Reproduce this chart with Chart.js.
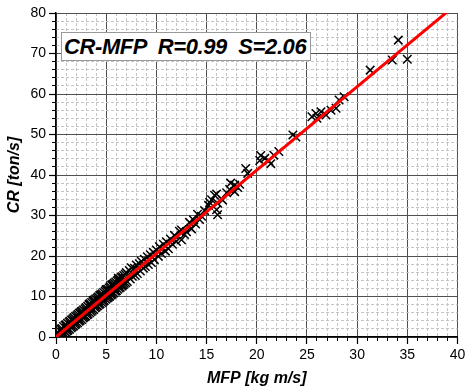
<!DOCTYPE html>
<html>
<head>
<meta charset="utf-8">
<script src="https://cdn.jsdelivr.net/npm/chart.js@4.4.0/dist/chart.umd.min.js"></script>
<style>
  html, body { margin: 0; padding: 0; background: #fff; }
  #wrap { position: relative; width: 465px; height: 390px; }
  #fitLabel {
    position: absolute; left: 61px; top: 32px; width: 250px; height: 29px;
    box-sizing: border-box; border: 1px solid #999; background: #fff; color: #000;
    font: italic bold 22px "Liberation Sans", Arial, sans-serif;
    line-height: 27px; padding-left: 2px; white-space: pre; letter-spacing: -0.4px;
  }
</style>
</head>
<body>
<div id="wrap">
  <canvas id="chart" width="465" height="390"></canvas>
  <div id="fitLabel"></div>
</div>
<script>
/* datos */
const mfp = [
  0.1, 0.15, 0.2, 0.3, 0.35, 0.4, 0.5, 0.55, 0.6, 0.7,
  0.75, 0.8, 0.9, 0.95, 1.0, 1.1, 1.15, 1.2, 1.3, 1.35,
  1.4, 1.5, 1.55, 1.6, 1.7, 1.75, 1.8, 1.9, 1.95, 2.0,
  2.1, 2.15, 2.2, 2.3, 2.35, 2.4, 2.5, 2.55, 2.6, 2.7,
  2.75, 2.8, 2.9, 2.95, 3.0, 3.1, 3.15, 3.2, 3.3, 3.35,
  3.4, 3.5, 3.55, 3.6, 3.7, 3.75, 3.8, 3.9, 3.95, 4.0,
  4.1, 4.15, 4.2, 4.3, 4.35, 4.4, 4.5, 4.55, 4.6, 4.7,
  4.75, 4.8, 4.9, 4.95, 5.0, 5.1, 5.15, 5.2, 5.3, 5.35,
  5.4, 5.5, 5.55, 5.6, 5.7, 5.75, 5.8, 5.9, 5.95, 6.0,
  6.1, 6.15, 6.2, 6.3, 6.35, 6.4, 6.5, 6.55, 6.6, 6.7,
  6.75, 6.8, 6.9, 6.95,
  0.25, 0.65, 1.05, 1.45, 1.85, 2.25, 2.65, 3.05, 3.45, 3.85,
  4.25, 4.65, 5.05, 5.45, 5.85, 6.25, 6.65,
  1.6, 2.4, 3.3, 3.7, 4.4, 5.0, 5.6, 6.2, 2.9, 4.1,
  5.3, 6.0, 6.6,
  7.0, 7.1, 7.3, 7.4, 7.5, 7.6, 7.8, 7.9, 8.0, 8.1,
  8.3, 8.4, 8.5, 8.7, 8.8, 8.9, 9.1, 9.2, 9.4, 9.5,
  9.7, 9.8, 10.0, 10.2, 10.3, 10.5, 10.7, 10.9, 11.0, 11.2,
  11.4, 11.6, 11.8, 12.0, 12.3, 12.5, 12.5, 12.8, 13.0, 13.3,
  13.5, 13.7, 13.9, 14.1, 14.3, 14.5, 14.8,
  15.2, 15.3, 15.5, 15.8, 16.0, 16.1, 16.0, 16.1, 16.6, 17.0,
  17.3, 17.4, 17.8, 17.8, 18.1, 18.3, 18.9, 19.1, 20.3, 20.4,
  20.8, 21.2, 21.4, 21.7, 22.2, 23.6, 23.9,
  25.5, 25.9, 26.0, 26.4, 26.9, 27.4, 27.9, 28.2, 28.7, 31.3,
  33.5, 34.1, 35.0
];
const cr = [
  0.9, 0.0, 1.1, 0.0, 1.6, 0.3, 1.9, 0.4, 2.1, 0.7,
  2.6, 0.9, 2.9, 1.2, 3.0, 1.5, 3.4, 1.7, 3.7, 1.9,
  3.9, 2.3, 4.2, 2.5, 4.5, 2.7, 4.8, 3.0, 5.1, 3.3,
  5.3, 3.5, 5.6, 3.9, 5.9, 4.1, 6.2, 4.3, 6.4, 4.7,
  6.7, 4.9, 7.0, 5.2, 7.3, 5.5, 7.6, 5.7, 7.9, 6.0,
  8.2, 6.3, 8.5, 6.6, 8.8, 6.8, 9.1, 7.2, 9.4, 7.4,
  9.6, 7.7, 9.9, 8.0, 10.2, 8.2, 10.4, 8.5, 10.7, 8.8,
  11.0, 9.0, 11.3, 9.3, 11.6, 9.6, 11.8, 9.8, 12.1, 10.1,
  12.4, 10.4, 12.7, 10.6, 13.0, 10.9, 13.3, 11.3, 13.6, 11.5,
  13.9, 11.8, 14.1, 12.1, 14.4, 12.3, 14.7, 12.6, 14.9, 12.9,
  15.2, 13.2, 15.5, 13.4,
  0.5, 1.3, 2.2, 3.0, 3.8, 4.6, 5.5, 6.3, 7.1, 7.9,
  8.8, 9.6, 10.4, 11.2, 12.1, 12.9, 13.7,
  4.2, 5.9, 8.1, 9.0, 10.3, 11.7, 12.9, 14.5, 5.1, 7.7,
  10.0, 11.4, 12.8,
  15.9, 13.7, 16.4, 14.3, 17.1, 15.0, 17.0, 15.2, 17.8, 15.7,
  18.1, 16.3, 18.7, 17.0, 19.2, 17.4, 19.8, 17.9, 20.3, 18.4,
  20.9, 19.1, 21.5, 19.9, 22.3, 20.6, 22.9, 21.2, 23.5, 21.8,
  24.2, 22.9, 25.1, 23.6, 26.1, 24.0, 26.4, 25.3, 26.0, 28.3,
  26.7, 28.9, 27.9, 30.3, 29.0, 29.8, 31.2,
  32.5, 33.2, 33.9, 35.0, 35.3, 33.0, 31.4, 30.2, 33.8, 35.6,
  36.4, 38.0, 37.5, 35.9, 36.9, 37.7, 41.6, 40.4, 43.6, 44.8,
  44.1, 43.5, 42.8, 44.9, 45.8, 49.9, 49.4,
  54.4, 55.2, 54.0, 55.6, 54.8, 56.0, 56.5, 58.5, 59.3, 65.9,
  68.4, 73.3, 68.6
];

// ajuste lineal y = S * x
const fitR = 0.99;
const fitS = 2.06;

const xMin = 0, xMax = 40, yMin = 0, yMax = 80;
const FONT = '"Liberation Sans", Arial, sans-serif';

document.getElementById('fitLabel').textContent =
  'CR-MFP  R=' + fitR.toFixed(2) + '  S=' + fitS.toFixed(2);

const points = mfp.map((x, i) => ({ x: x, y: cr[i] }));
const fitLine = [xMin, xMax].map(x => ({ x: x, y: fitS * x }));

const ctx = document.getElementById('chart').getContext('2d');
new Chart(ctx, {
  type: 'scatter',
  data: {
    datasets: [
      {
        type: 'line',
        data: fitLine,
        borderColor: '#ff0000',
        borderWidth: 3,
        pointRadius: 0,
        clip: 0,
        order: 0
      },
      {
        data: points,
        pointStyle: 'crossRot',
        pointRadius: 6,
        pointBorderWidth: 1.5,
        borderColor: '#000',
        backgroundColor: '#000',
        order: 1
      }
    ]
  },
  options: {
    responsive: false,
    animation: false,
    devicePixelRatio: 1,
    layout: { padding: { top: 13, right: 6, left: 0, bottom: 0 } },
    plugins: { legend: { display: false }, tooltip: { enabled: false } },
    scales: {
      x: {
        type: 'linear', position: 'bottom', weight: 1, min: xMin, max: xMax,
        ticks: { stepSize: 5, autoSkip: false, maxRotation: 0, padding: 3, color: '#000', font: { family: FONT, size: 14 } },
        grid: { color: '#505050', lineWidth: 1, tickColor: '#000', tickLength: 7, tickWidth: 1.2 },
        border: { color: '#000', width: 1.5 },
        title: { display: true, text: 'MFP [kg m/s]', color: '#000', font: { family: FONT, size: 16, weight: 'bold', style: 'italic' }, padding: { top: 4, bottom: 2 } },
        afterFit: s => { s.height = 53; s.paddingLeft = 0; s.paddingRight = 0; }
      },
      xMinor: {
        type: 'linear', position: 'bottom', weight: 0, min: xMin, max: xMax,
        ticks: { stepSize: 1, display: false, autoSkip: false },
        grid: {
          color: c => (c.tick && c.tick.value % 5 === 0) ? 'rgba(0,0,0,0)' : '#c4c4c4',
          lineWidth: 1, tickColor: '#000', tickLength: 4, tickWidth: 1
        },
        border: { display: false, dash: [3, 2] },
        afterFit: s => { s.height = 0; s.paddingLeft = 0; s.paddingRight = 0; }
      },
      y: {
        type: 'linear', position: 'left', weight: 1, min: yMin, max: yMax,
        ticks: { stepSize: 10, autoSkip: false, padding: 3, color: '#000', font: { family: FONT, size: 14 } },
        grid: { color: '#505050', lineWidth: 1, tickColor: '#000', tickLength: 7, tickWidth: 1.2 },
        border: { color: '#000', width: 1.5 },
        title: { display: true, text: 'CR [ton/s]', color: '#000', font: { family: FONT, size: 16, weight: 'bold', style: 'italic' }, padding: { top: 5, bottom: 0 } },
        afterFit: s => { s.width = 56; s.paddingTop = 0; s.paddingBottom = 0; }
      },
      yMinor: {
        type: 'linear', position: 'left', weight: 0, min: yMin, max: yMax,
        ticks: { stepSize: 2, display: false, autoSkip: false },
        grid: {
          color: c => (c.tick && c.tick.value % 10 === 0) ? 'rgba(0,0,0,0)' : '#c4c4c4',
          lineWidth: 1, tickColor: '#000', tickLength: 4, tickWidth: 1
        },
        border: { display: false, dash: [3, 2] },
        afterFit: s => { s.width = 0; s.paddingTop = 0; s.paddingBottom = 0; }
      }
    }
  }
});
</script>
</body>
</html>
